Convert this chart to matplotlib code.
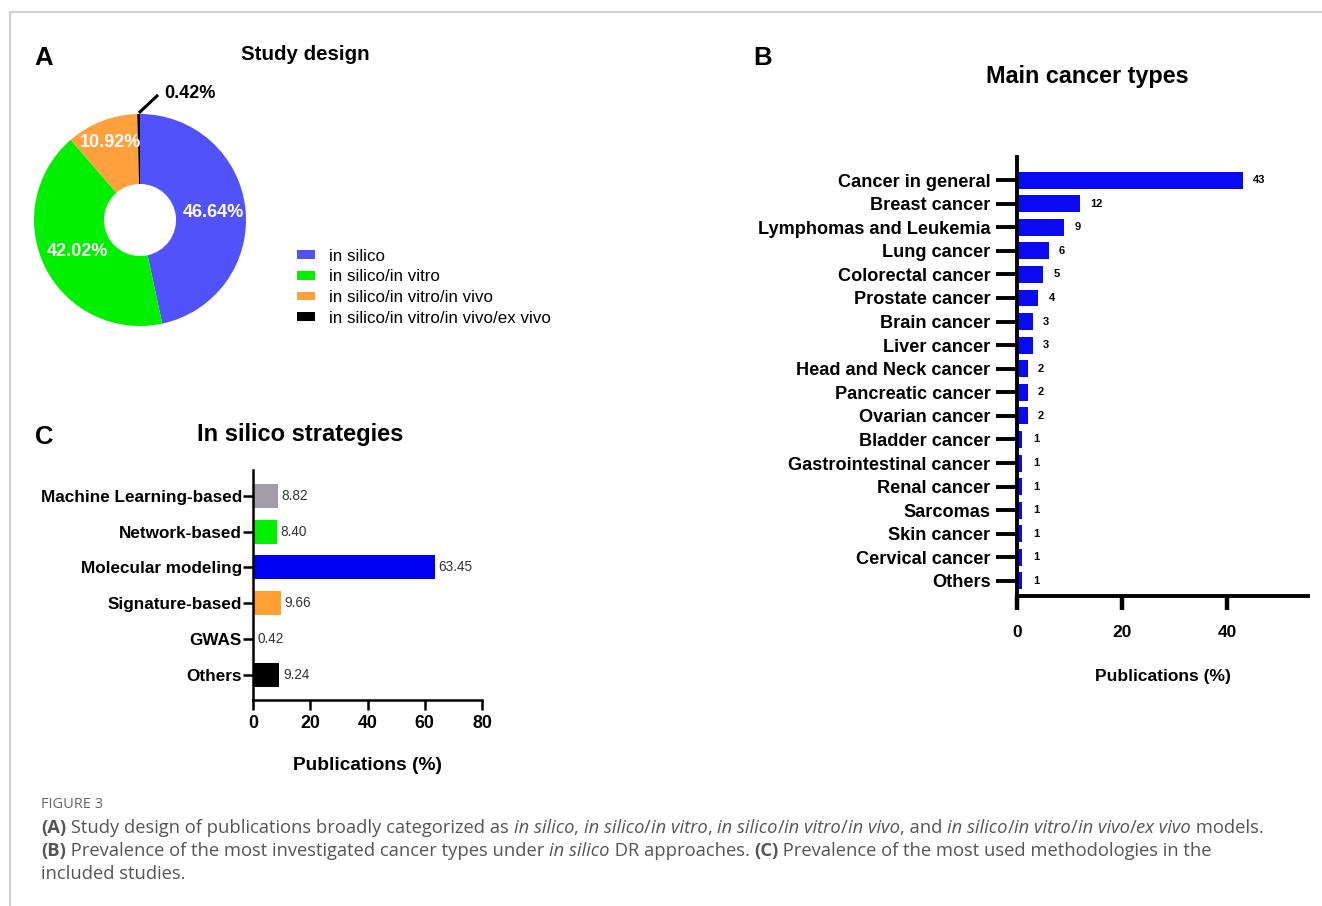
import matplotlib
matplotlib.use("Agg")
import matplotlib.pyplot as plt
from matplotlib.patches import Patch
from matplotlib.lines import Line2D
import numpy as np

plt.rcParams['font.family'] = ['Liberation Sans', 'DejaVu Sans']

# ---- data ----
design_labels = ['in silico', 'in silico/in vitro', 'in silico/in vitro/in vivo',
                 'in silico/in vitro/in vivo/ex vivo']
design_values = [46.64, 42.02, 10.92, 0.42]
design_colors = ['#5252FA', '#00F000', '#FFA03C', '#000000']

cancer_types = ['Cancer in general', 'Breast cancer', 'Lymphomas and Leukemia', 'Lung cancer',
                'Colorectal cancer', 'Prostate cancer', 'Brain cancer', 'Liver cancer',
                'Head and Neck cancer', 'Pancreatic cancer', 'Ovarian cancer', 'Bladder cancer',
                'Gastrointestinal cancer', 'Renal cancer', 'Sarcomas', 'Skin cancer',
                'Cervical cancer', 'Others']
cancer_values = [43, 12, 9, 6, 5, 4, 3, 3, 2, 2, 2, 1, 1, 1, 1, 1, 1, 1]

strategies = ['Machine Learning-based', 'Network-based', 'Molecular modeling',
              'Signature-based', 'GWAS', 'Others']
strategy_values = [8.82, 8.40, 63.45, 9.66, 0.42, 9.24]
strategy_colors = ['#A29DA8', '#00F000', '#0000F5', '#FFA033', '#FFFFFF', '#000000']

W, H = 1322, 906
fig = plt.figure(figsize=(W / 100, H / 100), dpi=100)


def box(x0, y0, x1, y1):
    return [x0 / W, 1 - y1 / H, (x1 - x0) / W, (y1 - y0) / H]


def ftext(x, y, s, **kw):
    fig.text(x / W, 1 - y / H, s, **kw)


# frame lines of the figure page
fig.add_artist(Line2D([10 / W, 1], [1 - 12 / H, 1 - 12 / H], color='#d0d0d0', lw=1.5))
fig.add_artist(Line2D([10 / W, 10 / W], [0, 1 - 12 / H], color='#d0d0d0', lw=1.5))

# ---- panel A: donut ----
axA = fig.add_axes(box(34, 114, 246, 326))
wedges, _ = axA.pie(design_values, colors=design_colors, startangle=90, counterclock=False,
                    wedgeprops=dict(width=0.66, linewidth=0))
axA.set_xlim(-1, 1)
axA.set_ylim(-1, 1)
axA.set_aspect('equal')
label_r = [0.70, 0.66, 0.78]
for w, v, r in zip(wedges[:3], design_values[:3], label_r):
    ang = np.deg2rad((w.theta1 + w.theta2) / 2)
    axA.text(r * np.cos(ang), r * np.sin(ang), f'{v:.2f}%', color='white',
             fontsize=13, fontweight='bold', ha='center', va='center')
axA.plot([0.0, 0.16], [1.02, 1.17], color='black', lw=2.2, clip_on=False)
axA.text(0.23, 1.19, f'{design_values[3]:.2f}%', fontsize=13, fontweight='bold',
         ha='left', va='center')

handles = [Patch(facecolor=c, edgecolor='none') for c in design_colors]
fig.legend(handles, design_labels, loc='upper left', bbox_to_anchor=(290 / W, 1 - 242 / H),
           frameon=False, fontsize=12.2, handlelength=1.05, handleheight=0.4,
           handletextpad=0.85, labelspacing=0.33, borderaxespad=0)

ftext(305, 54, 'Study design', fontsize=14.8, fontweight='bold', ha='center', va='center')
ftext(44, 58, 'A', fontsize=18.5, fontweight='bold', ha='center', va='center')

# ---- panel C: strategies ----
axC = fig.add_axes(box(253, 470, 482, 700))
yC = np.arange(len(strategies))
axC.barh(yC, strategy_values, height=0.67, color=strategy_colors, edgecolor='none')
for y, v in zip(yC, strategy_values):
    axC.text(v + 1.2, y, f'{v:.2f}', fontsize=9.8, color='#333333', va='center', ha='left')
axC.set_ylim(5.7, -0.72)
axC.set_xlim(0, 80)
axC.set_xticks([0, 20, 40, 60, 80])
axC.set_yticks(yC)
axC.set_yticklabels(strategies)
for s in ['top', 'right']:
    axC.spines[s].set_visible(False)
for s in ['left', 'bottom']:
    axC.spines[s].set_linewidth(1.8)
axC.tick_params(axis='both', length=7, width=1.8, labelsize=12.3, pad=1)
axC.tick_params(axis='x', labelsize=12.8, pad=4)
for t in axC.get_xticklabels() + axC.get_yticklabels():
    t.set_fontweight('bold')
axC.set_xlabel('Publications (%)', fontsize=13.8, fontweight='bold', labelpad=18)
ftext(300, 435, 'In silico strategies', fontsize=17, fontweight='bold', ha='center', va='center')
ftext(44, 437, 'C', fontsize=18.5, fontweight='bold', ha='center', va='center')

# ---- panel B: cancer types ----
axB = fig.add_axes(box(1017, 157, 1308, 596))
yB = np.arange(len(cancer_types))
axB.barh(yB, cancer_values, height=0.72, color='#0A0AF5', edgecolor='none')
for y, v in zip(yB, cancer_values):
    axB.text(v + 2, y, str(v), fontsize=8, fontweight='bold', va='center', ha='left')
axB.set_ylim(17.64, -0.98)
axB.set_xlim(0, 55.4)
axB.set_xticks([0, 20, 40])
axB.set_yticks(yB)
axB.set_yticklabels(cancer_types)
for s in ['top', 'right']:
    axB.spines[s].set_visible(False)
for s in ['left', 'bottom']:
    axB.spines[s].set_linewidth(2.8)
axB.tick_params(axis='y', length=15, width=2.8, labelsize=13.1, pad=4)
axB.tick_params(axis='x', length=10, width=3.2, labelsize=12.5, pad=11)
for t in axB.get_xticklabels() + axB.get_yticklabels():
    t.set_fontweight('bold')
axB.set_xlabel('Publications (%)', fontsize=12.5, fontweight='bold', labelpad=21)
ftext(1087, 77, 'Main cancer types', fontsize=16.8, fontweight='bold', ha='center', va='center')
ftext(763, 58, 'B', fontsize=18.5, fontweight='bold', ha='center', va='center')

# ---- caption ----
cap_font = ['Open Sans', 'DejaVu Sans']
cap_color = '#555555'
ftext(41, 805, 'FIGURE 3', fontsize=10.5, color='#666666', family=cap_font, va='center')

lines = [
    [('(A)', 'bold', 'normal'), (' Study design of publications broadly categorized as ', 'normal', 'normal'),
     ('in silico', 'normal', 'italic'), (', ', 'normal', 'normal'),
     ('in silico', 'normal', 'italic'), ('/', 'normal', 'normal'), ('in vitro', 'normal', 'italic'),
     (', ', 'normal', 'normal'),
     ('in silico', 'normal', 'italic'), ('/', 'normal', 'normal'), ('in vitro', 'normal', 'italic'),
     ('/', 'normal', 'normal'), ('in vivo', 'normal', 'italic'), (', and ', 'normal', 'normal'),
     ('in silico', 'normal', 'italic'), ('/', 'normal', 'normal'), ('in vitro', 'normal', 'italic'),
     ('/', 'normal', 'normal'), ('in vivo', 'normal', 'italic'), ('/', 'normal', 'normal'),
     ('ex vivo', 'normal', 'italic'), (' models.', 'normal', 'normal')],
    [('(B)', 'bold', 'normal'), (' Prevalence of the most investigated cancer types under ', 'normal', 'normal'),
     ('in silico', 'normal', 'italic'), (' DR approaches. ', 'normal', 'normal'),
     ('(C)', 'bold', 'normal'), (' Prevalence of the most used methodologies in the', 'normal', 'normal')],
    [('included studies.', 'normal', 'normal')],
]
line_y = [828, 851, 874]

renderer = fig.canvas.get_renderer()


def seg_width(s, size, weight, style):
    t1 = fig.text(0, 0, '|' + s + '|', fontsize=size, fontweight=weight, fontstyle=style, family=cap_font)
    t2 = fig.text(0, 0, '||', fontsize=size, fontweight=weight, fontstyle=style, family=cap_font)
    w = t1.get_window_extent(renderer).width - t2.get_window_extent(renderer).width
    t1.remove()
    t2.remove()
    return w


size = 12
total = sum(seg_width(s, size, w, st) for s, w, st in lines[0])
size = size * 1217 / total

for segs, y in zip(lines, line_y):
    x = 41
    for s, w, st in segs:
        ftext(x, y, s, fontsize=size, fontweight=w, fontstyle=st, family=cap_font,
              color=cap_color, va='center', ha='left')
        x += seg_width(s, size, w, st)

fig.savefig('out.png', dpi=100)
